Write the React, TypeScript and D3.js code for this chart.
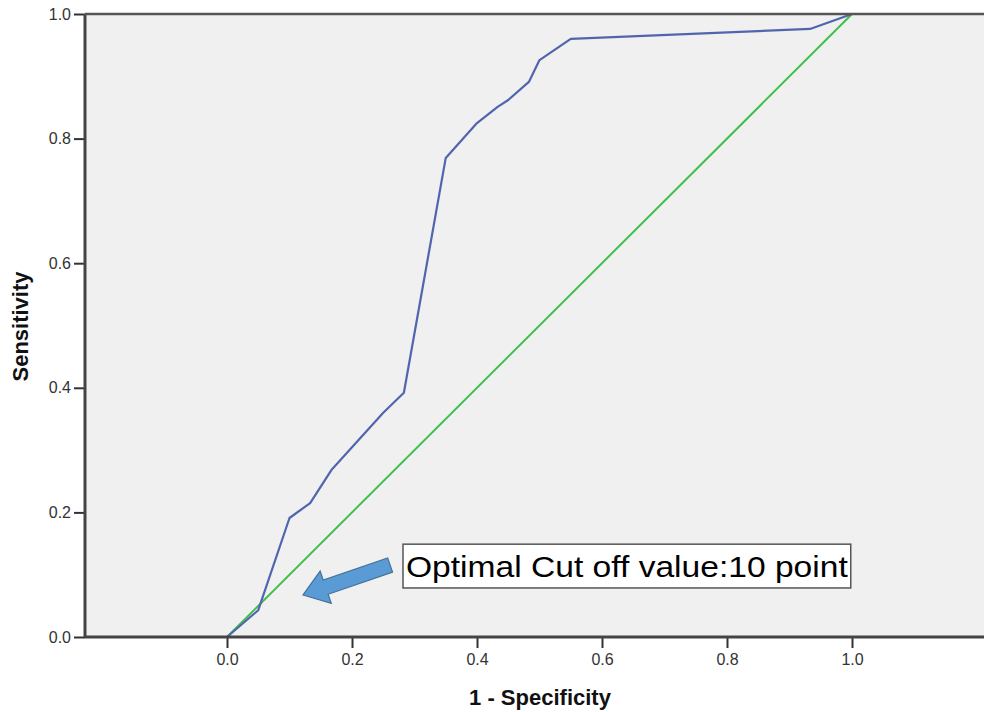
import React, { useEffect, useRef } from 'react';
import * as d3 from 'd3';

// ROC curve points
const fpr = [0, 0.05, 0.1, 0.133, 0.167, 0.25, 0.283, 0.35, 0.4, 0.433, 0.45, 0.483, 0.5, 0.55, 0.933, 1];
const tpr = [0, 0.043, 0.191, 0.215, 0.268, 0.36, 0.392, 0.769, 0.825, 0.851, 0.862, 0.891, 0.926, 0.96, 0.976, 1];
const refX = [0, 1];
const refY = [0, 1];
const ticks = [0, 0.2, 0.4, 0.6, 0.8, 1.0];
const noteText = 'Optimal Cut off value:10 point';

export default function App() {
  const chartRef = useRef<SVGSVGElement>(null);

  useEffect(() => {
    const width = 984;
    const height = 712;
    const plot = { left: 85, right: 984, top: 14, bottom: 637 };

    const svg = d3.select(chartRef.current);
    svg.selectAll('*').remove();
    svg.attr('width', width).attr('height', height);

    const x = d3.scaleLinear().domain([-0.2272, 1.2112]).range([plot.left, plot.right]);
    const y = d3.scaleLinear().domain([0, 1]).range([plot.bottom, plot.top]);

    svg.append('rect')
      .attr('x', plot.left).attr('y', plot.top)
      .attr('width', plot.right - plot.left).attr('height', plot.bottom - plot.top)
      .attr('fill', '#f0f0f0');

    const font = '"Liberation Sans", Arial, sans-serif';

    const line = d3.line<[number, number]>().x(d => x(d[0])).y(d => y(d[1]));

    // reference diagonal
    svg.append('path')
      .datum(refX.map((v, i) => [v, refY[i]] as [number, number]))
      .attr('d', line)
      .attr('fill', 'none')
      .attr('stroke', '#3fbf4c')
      .attr('stroke-width', 2);

    // ROC curve
    svg.append('path')
      .datum(fpr.map((v, i) => [v, tpr[i]] as [number, number]))
      .attr('d', line)
      .attr('fill', 'none')
      .attr('stroke', '#5165ae')
      .attr('stroke-width', 2.2)
      .attr('stroke-linejoin', 'round');

    // axes
    const xAxis = svg.append('g')
      .attr('transform', `translate(0,${plot.bottom})`)
      .call(d3.axisBottom(x).tickValues(ticks).tickFormat(d3.format('.1f')).tickSize(11).tickPadding(6));
    const yAxis = svg.append('g')
      .attr('transform', `translate(${plot.left},0)`)
      .call(d3.axisLeft(y).tickValues(ticks).tickFormat(d3.format('.1f')).tickSize(11).tickPadding(3));

    [xAxis, yAxis].forEach(g => {
      g.select('.domain').remove();
      g.selectAll('.tick line').attr('stroke', '#333').attr('stroke-width', 2);
      g.selectAll('.tick text')
        .attr('fill', '#333')
        .style('font-family', font)
        .style('font-size', '16px');
    });

    // frame lines: left, bottom, top
    svg.append('line')
      .attr('x1', plot.left).attr('x2', plot.right)
      .attr('y1', plot.bottom).attr('y2', plot.bottom)
      .attr('stroke', '#444').attr('stroke-width', 3);
    svg.append('line')
      .attr('x1', plot.left).attr('x2', plot.left)
      .attr('y1', plot.top).attr('y2', plot.bottom)
      .attr('stroke', '#444').attr('stroke-width', 3);
    svg.append('line')
      .attr('x1', plot.left).attr('x2', plot.right)
      .attr('y1', plot.top).attr('y2', plot.top)
      .attr('stroke', '#555').attr('stroke-width', 2.5);

    // axis titles
    svg.append('text')
      .attr('x', 540).attr('y', 705)
      .attr('text-anchor', 'middle')
      .style('font-family', font).style('font-size', '22px').style('font-weight', 'bold')
      .attr('fill', '#111')
      .text('1 - Specificity');
    svg.append('text')
      .attr('transform', `translate(28,${(plot.top + plot.bottom) / 2 + 1}) rotate(-90)`)
      .attr('text-anchor', 'middle')
      .style('font-family', font).style('font-size', '22px').style('font-weight', 'bold')
      .attr('fill', '#111')
      .text('Sensitivity');

    // annotation arrow
    const tail: [number, number] = [x(0.261), y(0.1156)];
    const tip: [number, number] = [x(0.1216), y(0.0674)];
    const dx = tip[0] - tail[0];
    const dy = tip[1] - tail[1];
    const len = Math.hypot(dx, dy);
    const ang = (Math.atan2(dy, dx) * 180) / Math.PI;
    const headLen = 24;
    const headHalf = 17;
    const shaftHalf = 7.5;
    const arrowPts: [number, number][] = [
      [0, -shaftHalf], [len - headLen, -shaftHalf], [len - headLen, -headHalf], [len, 0],
      [len - headLen, headHalf], [len - headLen, shaftHalf], [0, shaftHalf],
    ];
    svg.append('polygon')
      .attr('points', arrowPts.map(p => p.join(',')).join(' '))
      .attr('transform', `translate(${tail[0]},${tail[1]}) rotate(${ang})`)
      .attr('fill', '#5b9bd5')
      .attr('stroke', '#41719c')
      .attr('stroke-width', 1.2);

    // annotation box
    const bx0 = x(0.2816), bx1 = x(0.998);
    const by0 = y(0.149), by1 = y(0.0787);
    svg.append('rect')
      .attr('x', bx0).attr('y', by0)
      .attr('width', bx1 - bx0).attr('height', by1 - by0)
      .attr('fill', '#fff')
      .attr('stroke', '#555')
      .attr('stroke-width', 1.5);
    svg.append('text')
      .attr('x', bx0 + 3).attr('y', by0 + 33)
      .attr('textLength', bx1 - bx0 - 6)
      .attr('lengthAdjust', 'spacingAndGlyphs')
      .style('font-family', font).style('font-size', '30px')
      .attr('fill', '#000')
      .text(noteText);
  }, []);

  return (
    <svg ref={chartRef} style={{ position: 'absolute', left: 0, top: 0, display: 'block' }} />
  );
}
